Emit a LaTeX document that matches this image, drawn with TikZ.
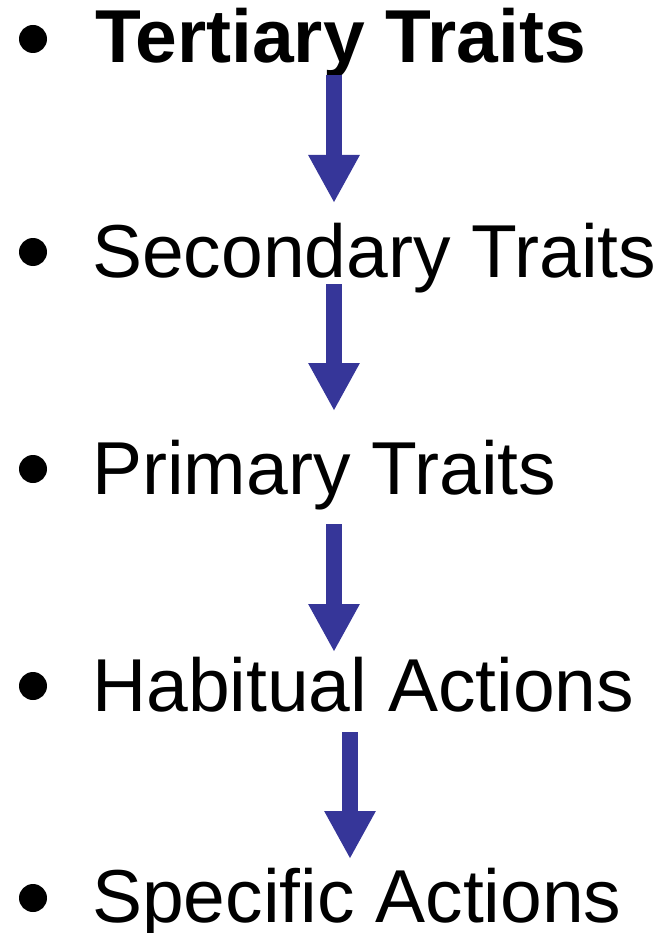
\documentclass[tikz,border=0pt]{standalone}
\usepackage{fontspec}
\setmainfont{Liberation Sans}
\usetikzlibrary{arrows.meta}
\definecolor{arrowblue}{RGB}{54,54,153}
\begin{document}
\begin{tikzpicture}[x=1pt,y=-1pt,
  item/.style={anchor=base west,inner sep=0pt,font=\fontsize{75}{82}\selectfont},
  bulletdot/.style={fill=black},
  downarrow/.style={draw=arrowblue,line width=16pt,-{Triangle[width=48pt,length=48pt]}}]
\useasboundingbox (0,0) rectangle (659,933);
\node[item,font=\fontsize{75}{82}\selectfont\bfseries] (t1) at (95,63) {Tertiary Traits};
\node[item] (t2) at (92,277) {Secondary Traits};
\node[item] (t3) at (92,494) {Primary Traits};
\node[item] (t4) at (92,711) {Habitual Actions};
\node[item] (t5) at (92,922) {Specific Actions};
\fill[bulletdot] (33,39) circle (14);
\fill[bulletdot] (33,252) circle (14);
\fill[bulletdot] (33,469) circle (14);
\fill[bulletdot] (33,686) circle (14);
\fill[bulletdot] (33,898) circle (14);
\coordinate (a1s) at (334,75);  \coordinate (a1e) at (334,203);
\coordinate (a2s) at (334,284); \coordinate (a2e) at (334,411);
\coordinate (a3s) at (334,524); \coordinate (a3e) at (334,652);
\coordinate (a4s) at (350,732); \coordinate (a4e) at (350,859);
\draw[downarrow] (a1s) -- (a1e);
\draw[downarrow] (a2s) -- (a2e);
\draw[downarrow] (a3s) -- (a3e);
\draw[downarrow] (a4s) -- (a4e);
\end{tikzpicture}
\end{document}
